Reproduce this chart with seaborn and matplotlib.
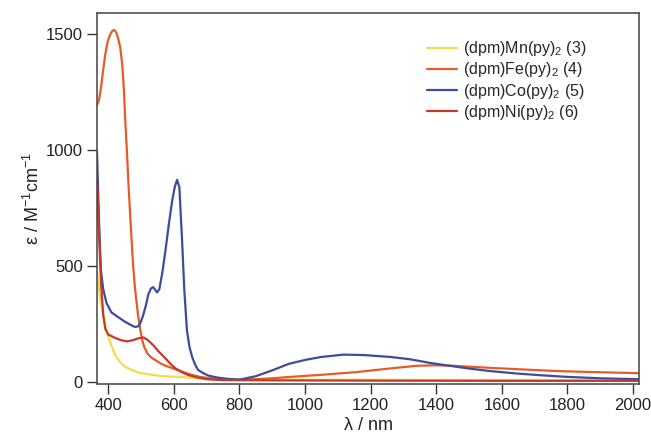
import numpy as np
import pandas as pd
import matplotlib
matplotlib.use("Agg")
import matplotlib.pyplot as plt
import seaborn as sns

# ---- data ----
mn_wl = [366, 372, 378, 385, 395, 406, 421, 435, 452, 475, 498, 530, 560, 613, 705, 800, 1000, 1400, 2018]
mn_eps = [474, 400, 340, 289, 220, 172, 116, 88, 65, 50, 39, 32, 26, 22, 15, 12, 10, 9, 8]

fe_wl = [366, 372, 378, 384, 391, 399, 406, 412, 418, 424, 430, 437, 443, 448, 452, 457, 461, 467, 472, 476,
         482, 491, 498, 505, 510, 520, 532, 543, 560, 575, 595, 615, 635, 656, 680, 705, 750, 800, 850,
         900, 955, 1050, 1159, 1250, 1342, 1400, 1450, 1500, 1565, 1650, 1769, 1900, 2018]
fe_eps = [1194, 1215, 1265, 1335, 1409, 1470, 1496, 1512, 1517, 1508, 1483, 1440, 1366, 1260, 1130, 1000, 880,
          720, 600, 504, 400, 290, 224, 175, 151, 122, 105, 95, 80, 70, 60, 50, 40, 30, 22, 17, 11, 10, 12,
          16, 22, 31, 43, 57, 70, 72, 70, 66, 61, 55, 47, 42, 38]

co_wl = [366, 372, 378, 385, 395, 410, 430, 452, 470, 482, 492, 500, 507, 515, 522, 530, 537, 543, 549,
         556, 565, 575, 585, 595, 603, 610, 617, 625, 632, 640, 648, 656, 665, 674, 690, 705, 730, 760, 800,
         850, 900, 950, 1000, 1050, 1117, 1180, 1260, 1320, 1382, 1450, 1500, 1565, 1650, 1720, 1800, 1900, 2018]
co_eps = [990, 700, 480, 400, 340, 300, 280, 259, 245, 237, 240, 260, 289, 330, 375, 402, 409, 398, 386,
          400, 470, 570, 680, 780, 840, 871, 840, 620, 400, 224, 150, 108, 75, 52, 38, 28, 20, 14, 10,
          25, 50, 78, 95, 108, 118, 116, 108, 98, 82, 68, 58, 47, 36, 29, 22, 16, 12]

ni_wl = [366, 372, 378, 385, 391, 400, 421, 440, 458, 475, 492, 507, 520, 537, 555, 574, 590, 604, 625,
         644, 670, 700, 750, 800, 900, 1200, 1600, 2018]
ni_eps = [890, 650, 430, 290, 230, 205, 190, 180, 175, 180, 188, 192, 182, 159, 130, 103, 78, 60, 42,
          30, 20, 12, 8, 8, 7, 6, 5, 5]

labels = [r'(dpm)Mn(py)$_{\mathregular{2}}$ (3)',
          r'(dpm)Fe(py)$_{\mathregular{2}}$ (4)',
          r'(dpm)Co(py)$_{\mathregular{2}}$ (5)',
          r'(dpm)Ni(py)$_{\mathregular{2}}$ (6)']
colors = ['#F2DC4C', '#E65C28', '#3E4C9E', '#C43A28']

xticks = [400, 600, 800, 1000, 1200, 1400, 1600, 1800, 2000]
yticks = [0, 500, 1000, 1500]

# ---- build long table ----
frames = []
for wl, ep, lab in zip([mn_wl, fe_wl, co_wl, ni_wl], [mn_eps, fe_eps, co_eps, ni_eps], labels):
    frames.append(pd.DataFrame({'wl': wl, 'eps': ep, 'compound': lab}))
df = pd.concat(frames, ignore_index=True)

sns.set_style("ticks")
plt.rcParams['font.family'] = ['Liberation Sans', 'DejaVu Sans']
plt.rcParams['mathtext.fontset'] = 'custom'
plt.rcParams['mathtext.rm'] = 'Liberation Sans'

fig = plt.figure(figsize=(6.51, 4.36), dpi=100)
ax = fig.add_axes([97 / 651, 1 - 384 / 436, (639 - 97) / 651, (384 - 13) / 436])

sns.lineplot(data=df, x='wl', y='eps', hue='compound', hue_order=labels,
             palette=dict(zip(labels, colors)), linewidth=1.6, ax=ax, sort=False,
             estimator=None)

ax.set_xlim(366, 2018)
ax.set_ylim(-8.6, 1590)
ax.set_xticks(xticks)
ax.set_yticks(yticks)
ax.tick_params(axis='both', direction='out', length=7, width=1.0, colors='#333333',
               labelsize=12, labelcolor='#222222', pad=3)
for s in ax.spines.values():
    s.set_visible(True)
    s.set_color('#444444')
    s.set_linewidth(1.1)

ax.set_xlabel(r'λ / nm', fontsize=13, color='#222222', labelpad=3)
ax.set_ylabel(r'ε / M$^{\mathregular{-1}}$cm$^{\mathregular{-1}}$', fontsize=13, color='#222222', labelpad=2)

leg = ax.legend(loc='upper right', bbox_to_anchor=(0.93, 0.968), frameon=False, fontsize=11.5,
                handlelength=1.9, handletextpad=0.4, labelspacing=0.14)
for line in leg.get_lines():
    line.set_linewidth(1.6)

fig.savefig('out.png', dpi=100, facecolor='white')
